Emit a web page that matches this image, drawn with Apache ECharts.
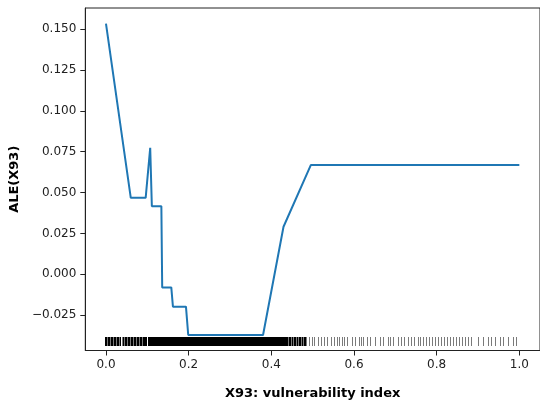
<!DOCTYPE html>
<html>
<head>
<meta charset="utf-8">
<script src="https://cdn.jsdelivr.net/npm/echarts@6/dist/echarts.min.js"></script>
<style>
  html, body { margin: 0; padding: 0; background: #fff; }
  #chart { width: 540px; height: 406px; }
</style>
</head>
<body>
<div id="chart"></div>
<script>
// ALE curve
const aleX = [0.000, 0.060, 0.096, 0.107, 0.111, 0.134, 0.136, 0.158, 0.162, 0.1935, 0.199, 0.380, 0.4295, 0.4955, 1.000];
const aleY = [0.1534, 0.0468, 0.0468, 0.0774, 0.0416, 0.0416, -0.0080, -0.0080, -0.0198, -0.0198, -0.0371, -0.0371, 0.0291, 0.0668, 0.0668];

// rug of observed X93 values: dark strokes, then the lighter ones
const rugDense = [0.000, 0.007, 0.014, 0.021, 0.028, 0.035, 0.042, 0.049, 0.056, 0.063, 0.070, 0.077, 0.084, 0.091, 0.097, 0.103, 0.107, 0.111, 0.115, 0.119, 0.123, 0.127, 0.131, 0.135, 0.139, 0.143, 0.147, 0.151, 0.155, 0.159, 0.163, 0.167, 0.171, 0.175, 0.179, 0.183, 0.187, 0.191, 0.195, 0.199, 0.203, 0.207, 0.211, 0.215, 0.219, 0.223, 0.227, 0.231, 0.235, 0.239, 0.243, 0.247, 0.251, 0.255, 0.259, 0.263, 0.267, 0.271, 0.275, 0.279, 0.283, 0.287, 0.291, 0.295, 0.299, 0.303, 0.307, 0.311, 0.315, 0.319, 0.323, 0.327, 0.331, 0.335, 0.339, 0.343, 0.347, 0.351, 0.355, 0.359, 0.363, 0.367, 0.371, 0.375, 0.379, 0.383, 0.387, 0.391, 0.395, 0.399, 0.404, 0.409, 0.414, 0.419, 0.424, 0.429, 0.434, 0.439, 0.445, 0.451, 0.457, 0.463, 0.469, 0.475, 0.481];
const rugSparse = [0.004, 0.011, 0.018, 0.025, 0.032, 0.039, 0.046, 0.053, 0.060, 0.067, 0.074, 0.081, 0.088, 0.442, 0.448, 0.454, 0.460, 0.466, 0.472, 0.478, 0.485, 0.492, 0.499, 0.504, 0.514, 0.521, 0.528, 0.537, 0.545, 0.552, 0.561, 0.566, 0.571, 0.576, 0.585, 0.597, 0.604, 0.614, 0.619, 0.623, 0.633, 0.640, 0.652, 0.664, 0.671, 0.683, 0.688, 0.695, 0.707, 0.716, 0.723, 0.731, 0.740, 0.747, 0.755, 0.762, 0.769, 0.776, 0.783, 0.790, 0.797, 0.805, 0.812, 0.819, 0.826, 0.833, 0.841, 0.848, 0.855, 0.862, 0.869, 0.876, 0.884, 0.902, 0.914, 0.926, 0.933, 0.943, 0.955, 0.962, 0.974, 0.986, 0.993];
const rugLevel = -0.0414;

const xTicks = [0.0, 0.2, 0.4, 0.6, 0.8, 1.0];
const yTicks = [-0.025, 0.000, 0.025, 0.050, 0.075, 0.100, 0.125, 0.150];

const font = 'DejaVu Sans';
const chart = echarts.init(document.getElementById('chart'));

// one rug stroke: a thin vertical rect placed through the axes' scales
function rugItem(w, color) {
  return function (params, api) {
    const p = api.coord([api.value(0), api.value(1)]);
    return {
      type: 'rect',
      shape: { x: Math.round(p[0] - w / 2), y: Math.round(p[1] - 4.5), width: w, height: 9 },
      style: { fill: color, stroke: null, lineWidth: 0 }
    };
  };
}

chart.setOption({
  animation: false,
  grid: {
    left: 85, top: 8, width: 462, height: 342.5,
    show: true, borderColor: '#222', borderWidth: 1
  },
  xAxis: {
    type: 'value', min: -0.05, max: 1.05,
    name: 'X93: vulnerability index', nameLocation: 'middle', nameGap: 37,
    nameTextStyle: { fontFamily: font, fontSize: 13, fontWeight: 'bold', color: '#000' },
    axisLine: { show: true, onZero: false, lineStyle: { color: '#222', width: 1 } },
    axisTick: { show: true, length: 5, customValues: xTicks, lineStyle: { color: '#222' } },
    axisLabel: {
      customValues: xTicks, margin: 8, fontFamily: font, fontSize: 12, color: '#222',
      formatter: v => v.toFixed(1)
    },
    splitLine: { show: false }
  },
  yAxis: {
    type: 'value', min: -0.0466, max: 0.1629,
    name: 'ALE(X93)', nameLocation: 'middle', nameGap: 56,
    nameTextStyle: { fontFamily: font, fontSize: 13, fontWeight: 'bold', color: '#000' },
    axisLine: { show: true, onZero: false, lineStyle: { color: '#222', width: 1 } },
    axisTick: { show: true, length: 5, customValues: yTicks, lineStyle: { color: '#222' } },
    axisLabel: {
      customValues: yTicks, margin: 9, fontFamily: font, fontSize: 12, color: '#222',
      formatter: v => (v < -1e-9 ? '\u2212' + Math.abs(v).toFixed(3) : Math.abs(v).toFixed(3))
    },
    splitLine: { show: false }
  },
  series: [
    {
      type: 'custom', silent: true, renderItem: rugItem(2, '#000'),
      data: rugDense.map(v => [v, rugLevel])
    },
    {
      type: 'custom', silent: true, renderItem: rugItem(1, '#7a7a7a'),
      data: rugSparse.map(v => [v, rugLevel])
    },
    {
      type: 'line', showSymbol: false, silent: true,
      lineStyle: { color: '#1f77b4', width: 2 },
      data: aleX.map((x, i) => [x, aleY[i]])
    }
  ]
});
</script>
</body>
</html>
